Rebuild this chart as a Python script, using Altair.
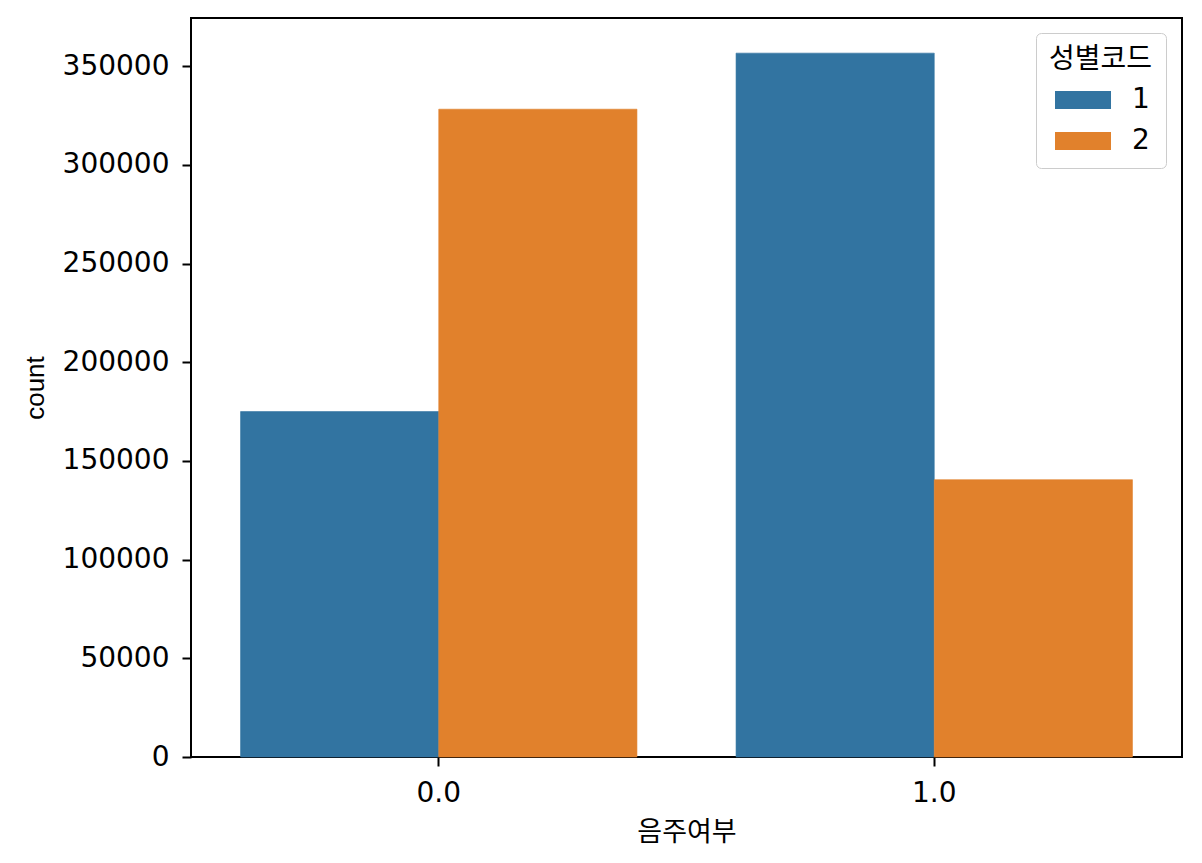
import altair as alt
import pandas as pd

# data
drink = ["0.0", "0.0", "1.0", "1.0"]
sex = ["1", "2", "1", "2"]
counts = [175000, 328200, 356600, 140500]

y_ticks = [0, 50000, 100000, 150000, 200000, 250000, 300000, 350000]
palette = ["#3274a1", "#e1812c"]

df = pd.DataFrame({"음주여부": drink, "성별코드": sex, "count": counts})

DIGIT_FONT = "DejaVu Sans"
KR_FONT = "Noto Sans CJK KR"

legend = alt.Legend(
    orient="none",
    legendX=845,
    legendY=15,
    title="성별코드",
    titleFont=KR_FONT,
    titleFontSize=28,
    titleFontWeight="normal",
    titleColor="black",
    titleAnchor="start",
    titlePadding=12,
    labelFont=DIGIT_FONT,
    labelFontSize=28,
    labelColor="black",
    labelOffset=55,
    symbolType="M-0.571,-0.643 L3.429,-0.643 L3.429,0.643 L-0.571,0.643 Z",
    symbolSize=784,
    symbolStrokeWidth=0,
    symbolOpacity=1,
    symbolOffset=0,
    rowPadding=13,
    padding=13,
    strokeColor="#cccccc",
    fillColor="white",
    cornerRadius=5,
)

color_scale = alt.Scale(domain=["1", "2"], range=palette)

chart = (
    alt.Chart(df)
    .mark_bar(strokeWidth=0.6)
    .encode(
        x=alt.X(
            "음주여부:N",
            scale=alt.Scale(paddingInner=0.2, paddingOuter=0.1),
            axis=alt.Axis(
                title="음주여부",
                titleFont=KR_FONT,
                titleFontSize=27,
                titleFontWeight="normal",
                titleColor="black",
                titleBaseline="alphabetic",
                titleY=83,
                labelAngle=0,
                labelFont=DIGIT_FONT,
                labelFontSize=28,
                labelColor="black",
                labelPadding=13,
                tickSize=9,
                tickWidth=2,
                tickColor="black",
                domain=False,
            ),
        ),
        xOffset=alt.XOffset("성별코드:N"),
        y=alt.Y(
            "count:Q",
            scale=alt.Scale(domain=[0, 374400], nice=False),
            axis=alt.Axis(
                title="count",
                values=y_ticks,
                format="d",
                titleFont="Liberation Sans",
                titleFontSize=26,
                titleFontWeight="normal",
                titleColor="black",
                titleBaseline="alphabetic",
                titleX=-148,
                titleY=369.5,
                titleAngle=270,
                labelFont=DIGIT_FONT,
                labelFontSize=28,
                labelColor="black",
                labelPadding=13,
                tickSize=9,
                tickWidth=2,
                tickColor="black",
                grid=False,
                domain=False,
            ),
        ),
        color=alt.Color("성별코드:N", scale=color_scale, legend=legend),
        stroke=alt.Stroke("성별코드:N", scale=color_scale, legend=None),
    )
    .properties(
        width=991,
        height=739,
        autosize=alt.AutoSizeParams(type="none"),
        padding={"left": 183, "top": 10, "right": 12, "bottom": 90},
    )
    .configure_view(stroke="black", strokeWidth=2)
)

chart.save("out.html", embed_options={"renderer": "svg", "actions": False})
